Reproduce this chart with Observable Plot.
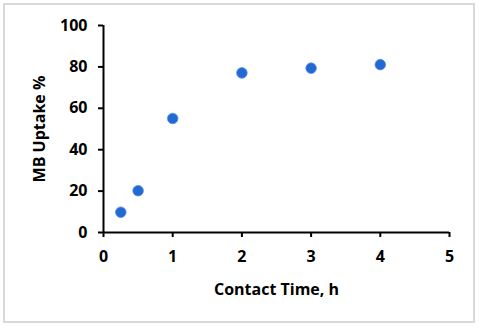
<!DOCTYPE html>
<html>
<head>
<meta charset="utf-8">
<script src="https://cdn.jsdelivr.net/npm/d3@7"></script>
<script src="https://cdn.jsdelivr.net/npm/@observablehq/plot@0.6"></script>
<style>
  html, body { margin: 0; padding: 0; background: #fff; }
  #wrap { position: relative; width: 480px; height: 328px; }
  #frame { position: absolute; left: 3px; top: 3px; width: 468px; height: 316px; border: 2px solid #d9d9d9; pointer-events: none; }
  svg { display: block; }
</style>
</head>
<body>
<div id="wrap"><div id="frame"></div></div>
<script>
const contactTime = [0.25, 0.5, 1, 2, 3, 4];
const uptake = [9.8, 20.2, 55.1, 77.1, 79.4, 81.1];
const xTicks = [0, 1, 2, 3, 4, 5];
const yTicks = [0, 20, 40, 60, 80, 100];

const data = contactTime.map((t, i) => ({t, u: uptake[i]}));
const font = "'Open Sans', 'DejaVu Sans', sans-serif";

const chart = Plot.plot({
  width: 480,
  height: 328,
  marginLeft: 103,
  marginRight: 31,
  marginTop: 25,
  marginBottom: 96,
  style: {fontFamily: font, fontSize: "16px", fontWeight: 700, color: "#000", background: "transparent"},
  x: {domain: [0, 5]},
  y: {domain: [0, 100]},
  marks: [
    Plot.axisX({ticks: xTicks, tickSize: 5, tickPadding: 13, tickFormat: d => String(d), strokeWidth: 2, fontSize: 16,
      label: "Contact Time, h", labelAnchor: "center", labelOffset: 62, labelArrow: "none"}),
    Plot.axisY({ticks: yTicks, tickSize: 5, tickPadding: 11, tickFormat: d => String(d), strokeWidth: 2, fontSize: 16,
      label: "MB Uptake %", labelAnchor: "center", labelOffset: 70, labelArrow: "none"}),
    Plot.ruleY([0], {stroke: "#000", strokeWidth: 2}),
    Plot.ruleX([0], {stroke: "#000", strokeWidth: 2}),
    Plot.dot(data, {x: "t", y: "u", r: 5.3, fill: "#2169d3", stroke: "#5a8fdc", strokeWidth: 0.8})
  ]
});
document.getElementById("wrap").prepend(chart);
</script>
</body>
</html>
